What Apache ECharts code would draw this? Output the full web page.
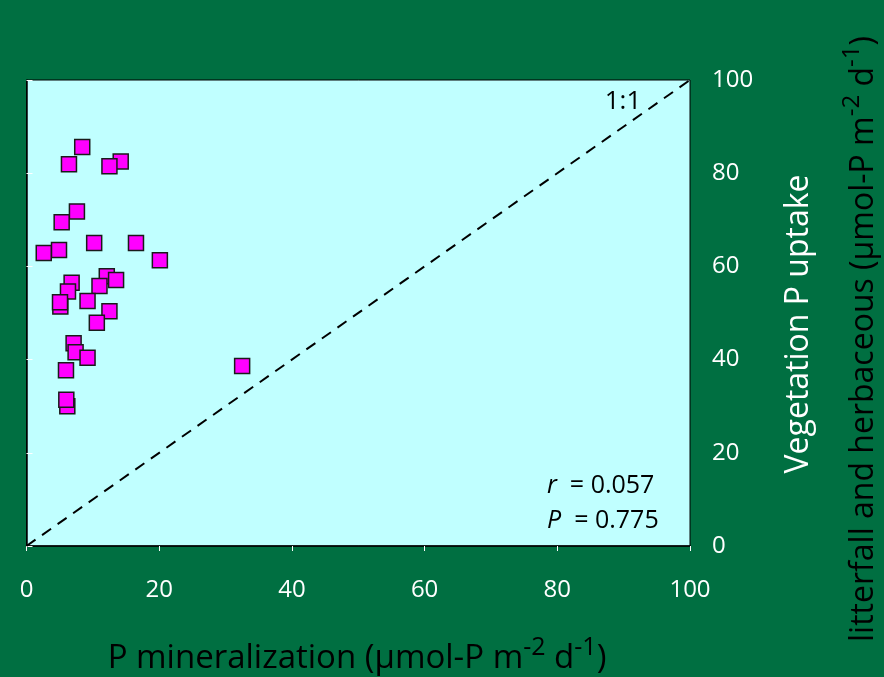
<!DOCTYPE html>
<html><head><meta charset="utf-8">
<script src="https://cdn.jsdelivr.net/npm/echarts@6/dist/echarts.min.js"></script>
<style>html,body{margin:0;padding:0;background:#006F41;}#c{width:884px;height:677px;}</style>
</head><body><div id="c"></div>
<script>
var xTicks = [0, 20, 40, 60, 80, 100];
var yTicks = [0, 20, 40, 60, 80, 100];
var mineralization = [8.4, 6.4, 14.2, 12.5, 7.6, 5.3, 10.2, 16.5, 4.9, 2.6, 20.1, 12.1, 13.5, 6.8, 11.0, 6.25, 9.2, 5.1, 5.05, 12.5, 10.6, 7.1, 7.4, 9.2, 5.95, 32.5, 6.15, 6.0];
var uptake =        [85.6, 81.9, 82.5, 81.5, 71.8, 69.5, 65.0, 65.0, 63.5, 62.9, 61.3, 57.9, 57.1, 56.5, 55.8, 54.6, 52.6, 51.4, 52.3, 50.4, 47.9, 43.5, 41.6, 40.4, 37.7, 38.6, 30.0, 31.4];
var oneToOne = [[0, 0], [100, 100]];

var pts = mineralization.map(function (v, i) { return [v, uptake[i]]; });
var chart = echarts.init(document.getElementById('c'));
var font = '"Open Sans", sans-serif';
chart.setOption({
  backgroundColor: '#006F41',
  animation: false,
  grid: { left: 26.5, right: 194, top: 80, bottom: 131, show: true, backgroundColor: '#C0FFFF', borderColor: '#000', borderWidth: 1 },
  xAxis: {
    type: 'value', min: 0, max: 100, interval: 20,
    axisLine: { show: true, lineStyle: { color: '#000', width: 1.5 } },
    axisTick: { show: true, inside: false, length: 5, lineStyle: { color: '#fff' } },
    axisLabel: { color: '#fff', fontSize: 24, fontFamily: font, margin: 32,
      formatter: function (v) { return xTicks.indexOf(v) >= 0 ? String(v) : ''; } },
    splitLine: { show: false }
  },
  yAxis: {
    type: 'value', position: 'right', min: 0, max: 100, interval: 20,
    axisLine: { show: true, lineStyle: { color: '#000', width: 1.5 } },
    axisTick: { show: true, inside: false, length: 6, lineStyle: { color: '#fff' } },
    axisLabel: { color: '#fff', fontSize: 24, fontFamily: font, margin: 22,
      formatter: function (v) { return yTicks.indexOf(v) >= 0 ? String(v) : ''; } },
    splitLine: { show: false }
  },
  series: [
    { type: 'line', data: oneToOne, symbol: 'none', silent: true,
      lineStyle: { color: '#000', width: 2, type: [11, 8] }, z: 1 },
    { type: 'scatter', data: pts, symbol: 'rect', symbolSize: 15,
      itemStyle: { color: '#FF00FF', borderColor: '#1a1a1a', borderWidth: 1.5, opacity: 1 }, z: 3 }
  ],
  graphic: [
    { type: 'text', x: 623, y: 102, style: { text: '1:1', fill: '#000', font: '26px ' + font, textAlign: 'center', textVerticalAlign: 'middle' } },
    { type: 'text', x: 547, y: 486, style: { text: '{i|r}{n|  = 0.057}', textVerticalAlign: 'middle',
      rich: { i: { fontStyle: 'italic', fontSize: 25, fontFamily: font, color: '#000' }, n: { fontSize: 25, fontFamily: font, color: '#000' } } } },
    { type: 'text', x: 547, y: 521, style: { text: '{i|P}{n|  = 0.775}', textVerticalAlign: 'middle',
      rich: { i: { fontStyle: 'italic', fontSize: 25, fontFamily: font, color: '#000' }, n: { fontSize: 25, fontFamily: font, color: '#000' } } } },
    { type: 'text', x: 357, y: 655, style: { text: '{n|P mineralization (μmol-P m}{s|-2}{n| d}{s|-1}{n|)}', textAlign: 'center', textVerticalAlign: 'middle',
      rich: { n: { fontSize: 33, fontFamily: font, color: '#fff', verticalAlign: 'bottom', lineHeight: 40 }, s: { fontSize: 25, fontFamily: font, color: '#fff', verticalAlign: 'top', lineHeight: 40, padding: [0, 0, 14, 0] } } } },
    { type: 'text', x: 799, y: 324, rotation: Math.PI / 2, style: { text: 'Vegetation P uptake', fill: '#fff', font: '32px ' + font, textAlign: 'center', textVerticalAlign: 'middle' } },
    { type: 'text', x: 860, y: 642, rotation: Math.PI / 2, style: { text: '{n|litterfall and herbaceous (μmol-P m}{s|-2}{n| d}{s|-1}{n|)}', textAlign: 'left', textVerticalAlign: 'middle',
      rich: { n: { fontSize: 32, fontFamily: font, color: '#fff', verticalAlign: 'bottom', lineHeight: 40 }, s: { fontSize: 24, fontFamily: font, color: '#fff', verticalAlign: 'top', lineHeight: 40, padding: [0, 0, 14, 0] } } } }
  ]
});
</script></body></html>
